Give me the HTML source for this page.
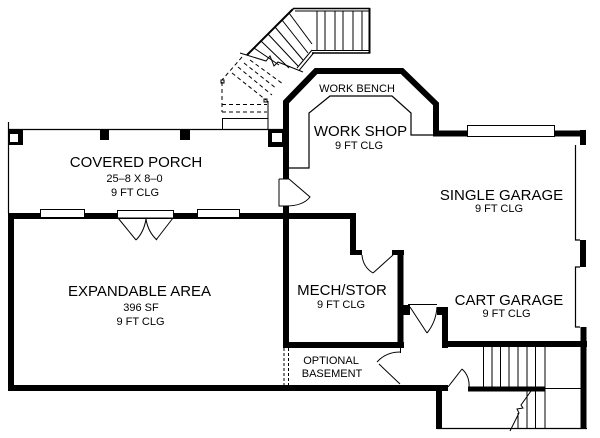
<!DOCTYPE html>
<html><head><meta charset="utf-8">
<style>
html,body{margin:0;padding:0;background:#fff;}
svg{display:block;}
text{font-family:"Liberation Sans",Arial,sans-serif;fill:#000;text-anchor:middle;}
.b{font-size:15px;}
.s{font-size:11px;}
</style></head><body>
<svg width="600" height="438" viewBox="0 0 600 438" xmlns="http://www.w3.org/2000/svg">
<rect x="0" y="0" width="600" height="438" fill="#fff"/>

<!-- ===== TOP STAIRS ===== -->
<g fill="none" stroke="#000" stroke-width="1">
  <line x1="247" y1="55" x2="293" y2="9" stroke-width="2"/>
  <line x1="293" y1="8.5" x2="370" y2="8.5" stroke-width="1.6"/>
  <line x1="295" y1="11" x2="369" y2="11"/>
  <line x1="369.5" y1="8" x2="369.5" y2="53.5" stroke-width="2"/>
  <line x1="312" y1="50.5" x2="370" y2="50.5"/>
  <line x1="312" y1="53" x2="370" y2="53" stroke-width="1.5"/>
  <line x1="317" y1="11" x2="317" y2="50"/>
  <line x1="325" y1="11" x2="325" y2="50"/>
  <line x1="335" y1="11" x2="335" y2="50"/>
  <line x1="343" y1="11" x2="343" y2="50"/>
  <line x1="353" y1="11" x2="353" y2="50"/>
  <line x1="362" y1="11" x2="362" y2="50"/>
  <line x1="312" y1="50" x2="297" y2="68"/>
  <line x1="314" y1="52.5" x2="299" y2="70.5"/>
  <!-- diagonal treads -->
  <line x1="289" y1="13" x2="312" y2="44"/>
  <line x1="282" y1="20" x2="308" y2="53"/>
  <line x1="275" y1="27" x2="303" y2="60"/>
  <line x1="268" y1="34" x2="298" y2="66"/>
  <line x1="261" y1="41" x2="289" y2="68"/>
  <line x1="254" y1="48" x2="279" y2="65"/>
  <!-- cut line -->
  <polyline points="240,53 266,61 270,56 274,66 278,62 303,72"/>
  <!-- dashed part -->
  <g stroke-dasharray="4,3">
    <line x1="242" y1="57" x2="222" y2="80"/>
    <line x1="222" y1="82" x2="222" y2="112"/>
    <line x1="250" y1="60" x2="283" y2="84"/>
    <line x1="244" y1="63" x2="277" y2="89"/>
    <line x1="238" y1="67" x2="272" y2="95"/>
    <line x1="232" y1="73" x2="266" y2="100"/>
    <line x1="222" y1="104.5" x2="267" y2="104.5"/>
    <line x1="222" y1="112" x2="267" y2="112"/>
  </g>
  <rect x="221" y="80" width="3" height="3"/>
  <rect x="264" y="99" width="3" height="3"/>
  <line x1="222" y1="118.5" x2="268" y2="118.5"/>
  <line x1="222.5" y1="118" x2="222.5" y2="129"/>
  <line x1="268" y1="101" x2="268" y2="129"/>
</g>

<!-- ===== PORCH ===== -->
<g fill="none" stroke="#000" stroke-width="1.2">
  <line x1="8.5" y1="122" x2="8.5" y2="213"/>
  <line x1="8" y1="129.5" x2="283" y2="129.5"/>
</g>
<rect x="8" y="129" width="15" height="16" fill="#000"/>
<rect x="10" y="134" width="8" height="8" fill="#fff"/>
<rect x="100" y="130" width="9" height="10" fill="#000"/>
<rect x="180" y="130" width="10" height="10" fill="#000"/>
<rect x="268" y="130" width="16" height="17" fill="#000"/>
<rect x="272" y="133" width="10" height="9" fill="#fff"/>

<!-- porch / expandable wall -->
<rect x="8" y="213" width="347" height="6" fill="#000"/>
<rect x="40.5" y="209.5" width="44" height="8" fill="#fff" stroke="#000" stroke-width="1"/>
<rect x="117.5" y="210.5" width="56" height="7.5" fill="#fff" stroke="#000" stroke-width="1"/>
<rect x="197.5" y="209.5" width="42" height="8" fill="#fff" stroke="#000" stroke-width="1"/>
<g fill="none" stroke="#000" stroke-width="1">
  <line x1="118" y1="218" x2="136" y2="240"/>
  <line x1="173" y1="218" x2="156" y2="240"/>
  <path d="M136,240 Q144,232 146,219 Q148,232 157,240"/>
</g>

<!-- expandable area walls -->
<rect x="8" y="213" width="6" height="178" fill="#000"/>
<rect x="8" y="385" width="440" height="6" fill="#000"/>

<!-- partition wall -->
<rect x="283" y="206" width="6" height="142" fill="#000"/>
<g stroke="#000" stroke-width="1" stroke-dasharray="3,2">
  <line x1="284" y1="348" x2="284" y2="385"/>
  <line x1="288.5" y1="348" x2="288.5" y2="385"/>
</g>

<!-- workshop outer wall -->
<polyline points="286,179 286,102 316,71 402,71 436,104 436,133.5 581,133.5" fill="none" stroke="#000" stroke-width="6" stroke-linejoin="miter"/>
<rect x="580" y="130" width="6" height="15" fill="#000"/>
<rect x="467.5" y="125.5" width="87" height="11" fill="#fff" stroke="#000" stroke-width="1"/>

<!-- workshop counter -->
<polyline points="289,168 309,168 309,113 330,96 392,96 411,113 411,135 433,135" fill="none" stroke="#000" stroke-width="1.2"/>

<!-- workshop door -->
<g fill="none" stroke="#000" stroke-width="1">
  <path d="M279,179 L279,206 L286,206 M279,179 L289,179 L310,197 Q303,206 286,206"/>
</g>

<!-- garage right side -->
<g fill="none" stroke="#000" stroke-width="1.2">
  <polyline points="575.5,145 575.5,240 580,240"/>
  <polyline points="580,267 575.5,267 575.5,327 580,327"/>
</g>
<rect x="580" y="240" width="6" height="27" fill="#000"/>
<rect x="580.5" y="327" width="6" height="102" fill="#000"/>

<!-- mech/stor -->
<rect x="350" y="213" width="6" height="42" fill="#000"/>
<rect x="350" y="250" width="12" height="5" fill="#000"/>
<rect x="392" y="250" width="12" height="5" fill="#000"/>
<rect x="397.5" y="250" width="6" height="98" fill="#000"/>
<rect x="283" y="342" width="121" height="6" fill="#000"/>
<g fill="none" stroke="#000" stroke-width="1">
  <line x1="393" y1="255" x2="373" y2="273"/>
  <path d="M373,273 Q363,267 362,255"/>
  <!-- optional basement door -->
  <line x1="400.5" y1="348" x2="400.5" y2="353"/>
  <line x1="400" y1="384" x2="379" y2="364"/>
  <path d="M377,362 Q386,352 400,352"/>
  <!-- hallway top door -->
  <line x1="408" y1="304.5" x2="437" y2="304.5"/>
  <line x1="410" y1="307" x2="427" y2="333"/>
  <path d="M427,333 Q436,322 437,307"/>
</g>
<rect x="403" y="305" width="7" height="10" fill="#000"/>
<rect x="437" y="307" width="11" height="8" fill="#000"/>
<rect x="442" y="307" width="6" height="41" fill="#000"/>

<!-- cart garage bottom wall -->
<rect x="442" y="341" width="145" height="6" fill="#000"/>

<!-- stairwell -->
<rect x="436" y="385" width="6" height="44" fill="#000"/>
<rect x="468" y="386.5" width="77" height="5" fill="#000"/>
<g fill="none" stroke="#000" stroke-width="1">
  <line x1="437" y1="428.5" x2="587" y2="428.5" stroke-width="1.3"/>
  <line x1="545" y1="388.5" x2="581" y2="388.5"/>
  <line x1="483.5" y1="347" x2="483.5" y2="387"/>
  <line x1="492" y1="347" x2="492" y2="387"/>
  <line x1="500.5" y1="347" x2="500.5" y2="387"/>
  <line x1="509" y1="347" x2="509" y2="387"/>
  <line x1="518" y1="347" x2="518" y2="387"/>
  <line x1="527" y1="347" x2="527" y2="387"/>
  <line x1="535.5" y1="347" x2="535.5" y2="387"/>
  <line x1="545" y1="347" x2="545" y2="428"/>
  <line x1="518" y1="413" x2="518" y2="428"/>
  <line x1="527" y1="391" x2="527" y2="428"/>
  <line x1="535.5" y1="391" x2="535.5" y2="428"/>
  <polyline points="510,431 519,413 517,409 523,408 521,405 531,391"/>
  <line x1="448" y1="387" x2="462" y2="369"/>
  <path d="M462,369 Q470,376 469,388"/>
</g>

<!-- ===== LABELS ===== -->
<text class="b" x="136" y="167">COVERED PORCH</text>
<text class="s" x="134.5" y="182">25–8 X 8–0</text>
<text class="s" x="135" y="196">9 FT CLG</text>

<text class="b" x="139.5" y="296">EXPANDABLE AREA</text>
<text class="s" x="141" y="311">396 SF</text>
<text class="s" x="140.5" y="325">9 FT CLG</text>

<text class="s" x="357" y="92">WORK BENCH</text>
<text class="b" x="360.5" y="136">WORK SHOP</text>
<text class="s" x="359" y="149">9 FT CLG</text>

<text class="b" x="501.5" y="200">SINGLE GARAGE</text>
<text class="s" x="499" y="212">9 FT CLG</text>

<text class="b" x="342" y="295">MECH/STOR</text>
<text class="s" x="341" y="308">9 FT CLG</text>

<text class="s" x="331" y="364">OPTIONAL</text>
<text class="s" x="332" y="377">BASEMENT</text>

<text class="b" x="509" y="305">CART GARAGE</text>
<text class="s" x="506.5" y="317">9 FT CLG</text>
</svg>
</body></html>
